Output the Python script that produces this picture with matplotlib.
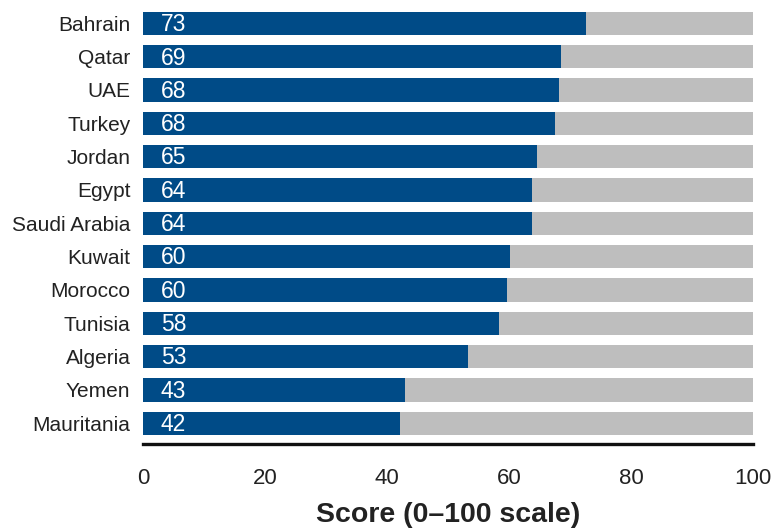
import matplotlib
matplotlib.use("Agg")
import matplotlib.pyplot as plt

countries = ["Bahrain", "Qatar", "UAE", "Turkey", "Jordan", "Egypt", "Saudi Arabia",
             "Kuwait", "Morocco", "Tunisia", "Algeria", "Yemen", "Mauritania"]
scores = [72.7, 68.6, 68.2, 67.5, 64.6, 63.7, 63.7, 60.2, 59.6, 58.3, 53.2, 42.9, 42.2]
labels = ["73", "69", "68", "68", "65", "64", "64", "60", "60", "58", "53", "43", "42"]
scale_max = [100] * len(countries)
xticks = [0, 20, 40, 60, 80, 100]

plt.rcParams["font.family"] = ["Liberation Sans", "DejaVu Sans"]

fig = plt.figure(figsize=(7.73, 5.3), dpi=100)
ax = fig.add_axes([143/773, 1 - 443.5/530, 610/773, 436.8/530])

pos = list(range(len(countries)))
ax.barh(pos, scale_max, height=0.70, color="#bebebe", edgecolor="none")
ax.barh(pos, scores, height=0.70, color="#004b87", edgecolor="none")
for p, lab in zip(pos, labels):
    ax.text(2.9, p + 0.04, lab, color="white", fontsize=16.5, va="center", ha="left")

ax.set_xlim(0, 100)
ax.set_ylim(12.61, -0.5)
ax.set_yticks(pos)
ax.set_yticklabels(countries, fontsize=15, color="#222222")
ax.set_xticks(xticks)
ax.set_xticklabels([str(t) for t in xticks], fontsize=16, color="#222222")
ax.tick_params(axis="both", length=0)
ax.tick_params(axis="y", pad=9)
ax.tick_params(axis="x", pad=18)
for s in ["top", "right", "left"]:
    ax.spines[s].set_visible(False)
ax.spines["bottom"].set_linewidth(2.4)
ax.spines["bottom"].set_color("#111111")
ax.set_xlabel("Score (0\u2013100 scale)", fontsize=20.5, fontweight="bold", color="#222222", labelpad=9)

fig.savefig("out.png", dpi=100)
